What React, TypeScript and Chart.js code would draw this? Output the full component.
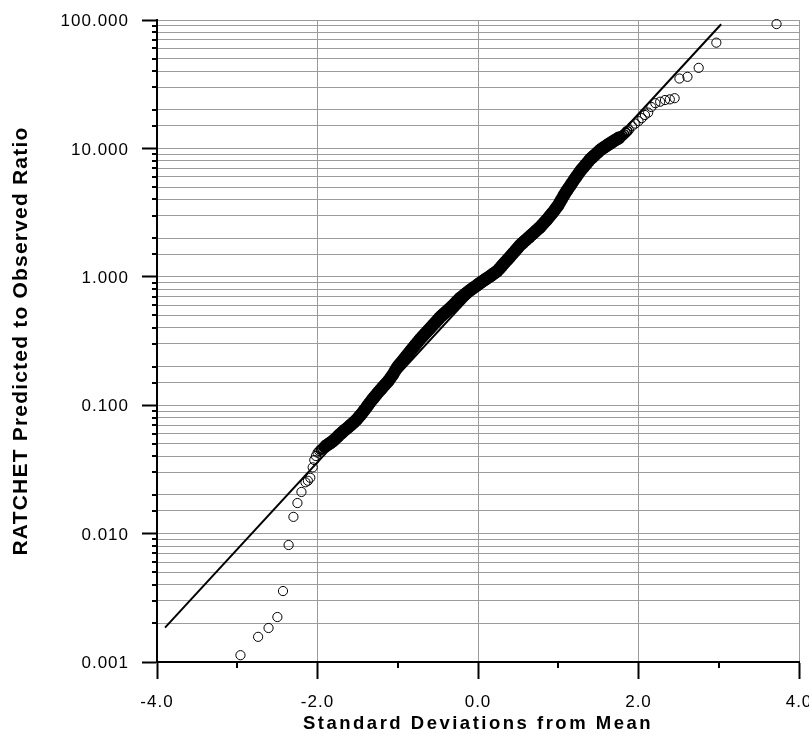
import React, { useEffect, useRef } from 'react';
import { Chart, registerables } from 'chart.js';

Chart.register(...registerables);

// Normal scores (standard deviations from mean) of the observations
const normalScores = [
  -2.96, -2.74, -2.61, -2.50, -2.43, -2.36, -2.30, -2.25, -2.20, -2.15,
  -2.12, -2.09, -2.06, -2.04, -2.02, -2.00, -1.98, -1.96, -1.94, -1.92,
  -1.90, -1.88, -1.86, -1.84, -1.82, -1.80, -1.78, -1.76, -1.74, -1.72,
  -1.70, -1.68, -1.66, -1.64, -1.62, -1.60, -1.58, -1.56, -1.54, -1.52,
  -1.50, -1.48, -1.46, -1.44, -1.42, -1.40, -1.38, -1.36, -1.34, -1.32,
  -1.30, -1.28, -1.26, -1.24, -1.22, -1.20, -1.18, -1.16, -1.14, -1.12,
  -1.10, -1.08, -1.06, -1.04, -1.02, -1.00, -0.98, -0.96, -0.94, -0.92,
  -0.90, -0.88, -0.86, -0.84, -0.82, -0.80, -0.78, -0.76, -0.74, -0.72,
  -0.70, -0.68, -0.66, -0.64, -0.62, -0.60, -0.58, -0.56, -0.54, -0.52,
  -0.50, -0.48, -0.46, -0.44, -0.42, -0.40, -0.38, -0.36, -0.34, -0.32,
  -0.30, -0.28, -0.26, -0.24, -0.22, -0.20, -0.18, -0.16, -0.14, -0.12,
  -0.10, -0.08, -0.06, -0.04, -0.02, 0.00, 0.02, 0.04, 0.06, 0.08,
  0.10, 0.12, 0.14, 0.16, 0.18, 0.20, 0.22, 0.24, 0.26, 0.28,
  0.30, 0.32, 0.34, 0.36, 0.38, 0.40, 0.42, 0.44, 0.46, 0.48,
  0.50, 0.52, 0.54, 0.56, 0.58, 0.60, 0.62, 0.64, 0.66, 0.68,
  0.70, 0.72, 0.74, 0.76, 0.78, 0.80, 0.82, 0.84, 0.86, 0.88,
  0.90, 0.92, 0.94, 0.96, 0.98, 1.00, 1.02, 1.04, 1.06, 1.08,
  1.10, 1.12, 1.14, 1.16, 1.18, 1.20, 1.22, 1.24, 1.26, 1.28,
  1.30, 1.32, 1.34, 1.36, 1.38, 1.40, 1.42, 1.44, 1.46, 1.48,
  1.50, 1.52, 1.54, 1.56, 1.58, 1.60, 1.62, 1.64, 1.66, 1.68,
  1.70, 1.72, 1.74, 1.76, 1.78, 1.80, 1.82, 1.84, 1.86, 1.88,
  1.92, 1.96, 2.00, 2.04, 2.08, 2.12, 2.16, 2.21, 2.27, 2.33,
  2.39, 2.45, 2.51, 2.61, 2.75, 2.97, 3.72,
];

// RATCHET predicted / observed ratios (sorted)
const ratios = [
  0.00113, 0.00157, 0.00184, 0.00224, 0.00357, 0.00815, 0.0135, 0.0173, 0.0211, 0.0251,
  0.0258, 0.0272, 0.0328, 0.0374, 0.0402, 0.0427, 0.0440, 0.0450, 0.0459, 0.0469,
  0.0479, 0.0489, 0.0499, 0.0509, 0.0520, 0.0531, 0.0545, 0.0560, 0.0577, 0.0593,
  0.0608, 0.0624, 0.0640, 0.0655, 0.0671, 0.0689, 0.0706, 0.0724, 0.0743, 0.0764,
  0.0789, 0.0817, 0.0843, 0.0873, 0.0908, 0.0944, 0.0982, 0.1023, 0.1059, 0.1102,
  0.1140, 0.1180, 0.1222, 0.1265, 0.1306, 0.1352, 0.1396, 0.1442, 0.1489, 0.1538,
  0.1600, 0.1667, 0.1734, 0.1820, 0.1914, 0.2000, 0.2070, 0.2143, 0.2218, 0.2301,
  0.2388, 0.2472, 0.2564, 0.2655, 0.2748, 0.2851, 0.2951, 0.3055, 0.3162, 0.3273,
  0.3381, 0.3491, 0.3597, 0.3715, 0.3828, 0.3954, 0.4083, 0.4217, 0.4355, 0.4487,
  0.4634, 0.4786, 0.4932, 0.5058, 0.5188, 0.5321, 0.5458, 0.5610, 0.5754, 0.5929,
  0.6095, 0.6281, 0.6471, 0.6653, 0.6855, 0.6998, 0.7161, 0.7328, 0.7499, 0.7674,
  0.7852, 0.8017, 0.8185, 0.8356, 0.8531, 0.8710, 0.8892, 0.9078, 0.9268, 0.9441,
  0.9638, 0.9817, 1.000, 1.021, 1.042, 1.064, 1.086, 1.109, 1.143, 1.183,
  1.222, 1.262, 1.303, 1.346, 1.390, 1.435, 1.483, 1.531, 1.581, 1.637,
  1.690, 1.750, 1.799, 1.845, 1.897, 1.945, 1.995, 2.046, 2.104, 2.158,
  2.213, 2.270, 2.333, 2.393, 2.460, 2.541, 2.624, 2.710, 2.799, 2.897,
  2.999, 3.105, 3.214, 3.342, 3.475, 3.614, 3.802, 3.990, 4.198, 4.406,
  4.613, 4.819, 5.023, 5.248, 5.470, 5.715, 5.957, 6.209, 6.471, 6.730,
  6.966, 7.194, 7.447, 7.709, 7.980, 8.260, 8.472, 8.710, 8.933, 9.183,
  9.419, 9.683, 9.886, 10.09, 10.28, 10.50, 10.69, 10.89, 11.09, 11.30,
  11.51, 11.72, 11.91, 12.13, 12.36, 12.59, 12.88, 13.24, 13.65, 13.9,
  14.9, 15.6, 16.3, 17.2, 18.2, 19.0, 21.0, 22.5, 23.1, 23.8,
  24.1, 24.6, 35.0, 36.1, 42.4, 66.6, 93.0,
];

// Fitted lognormal line end points
const fitX = [-3.9, 3.03];
const fitY = [0.00185, 92.6];

// Axis tick labels
const xMajorTicks = [-4, -2, 0, 2, 4];
const xTickLabels = ['-4.0', '-2.0', '0.0', '2.0', '4.0'];
const yMajorTicks = [0.001, 0.01, 0.1, 1, 10, 100];
const yTickLabels = ['0.001', '0.010', '0.100', '1.000', '10.000', '100.000'];

const FONT = "'Liberation Sans', Arial, sans-serif";
const GRID = '#9c9c9c';
const CLEAR = 'rgba(0,0,0,0)';

const xIndex = (v: number) => xMajorTicks.findIndex((m) => Math.abs(m - v) < 1e-9);
const yIndex = (v: number) => yMajorTicks.findIndex((m) => Math.abs(v - m) / m < 1e-6);

// heavily overlapping markers in the crowded middle of the distribution render as a solid band
const crowd = (x: number) => (x >= -1.9 && x <= 1.76 ? 2 : x >= -1.96 && x <= 1.86 ? 1 : 0);

const axisPlugin = {
  id: 'axisDecor',
  beforeDraw(chart: any) {
    const ctx = chart.ctx;
    const spacing: Record<string, [string, string]> = {
      x: ['1px', '2.5px'],
      y: ['1px', '1.2px'],
    };
    for (const id of ['x', 'y']) {
      const s = chart.scales[id];
      if (!s || s.__spaced) continue;
      const origLabels = s.drawLabels;
      const origTitle = s.drawTitle;
      s.drawLabels = function (...args: any[]) {
        ctx.save();
        ctx.letterSpacing = spacing[id][0];
        origLabels.apply(this, args);
        ctx.restore();
      };
      s.drawTitle = function (...args: any[]) {
        ctx.save();
        ctx.letterSpacing = spacing[id][1];
        origTitle.apply(this, args);
        ctx.restore();
      };
      s.__spaced = true;
    }
  },
  afterDraw(chart: any) {
    const { ctx, chartArea: a } = chart;
    const x = chart.scales.x;
    const y = chart.scales.y;
    ctx.save();
    ctx.strokeStyle = '#000';
    ctx.lineWidth = 2;
    for (const t of x.ticks) {
      if (xIndex(t.value) < 0) {
        const px = Math.round(x.getPixelForValue(t.value));
        ctx.beginPath();
        ctx.moveTo(px, a.bottom);
        ctx.lineTo(px, a.bottom + 6);
        ctx.stroke();
      }
    }
    for (const t of y.ticks) {
      if (yIndex(t.value) < 0) {
        const py = Math.round(y.getPixelForValue(t.value));
        ctx.beginPath();
        ctx.moveTo(a.left - 5, py);
        ctx.lineTo(a.left, py);
        ctx.stroke();
      }
    }
    ctx.restore();
  },
};

export default function App() {
  const ref = useRef<HTMLCanvasElement>(null);

  useEffect(() => {
    const canvas = ref.current;
    if (!canvas) return;
    const observed = normalScores.map((x, i) => ({ x, y: ratios[i] }));
    const fit = fitX.map((x, i) => ({ x, y: fitY[i] }));

    const chart = new Chart(canvas, {
      type: 'scatter',
      data: {
        datasets: [
          {
            label: 'Fit',
            data: fit,
            showLine: true,
            borderColor: '#000',
            borderWidth: 2,
            pointRadius: 0,
            order: 2,
          } as any,
          {
            label: 'Observed',
            data: observed,
            pointRadius: (c: any) => {
              const k = crowd(normalScores[c.dataIndex]);
              return k === 2 ? 4.8 : 4.6;
            },
            pointBorderWidth: (c: any) => {
              const k = crowd(normalScores[c.dataIndex]);
              return k === 2 ? 3.2 : k === 1 ? 1.6 : 1;
            },
            pointBorderColor: '#000',
            pointBackgroundColor: CLEAR,
            order: 1,
            clip: false,
          } as any,
        ],
      },
      options: {
        responsive: false,
        animation: false,
        events: [],
        layout: { padding: { left: 0, right: 10, top: 20, bottom: 0 } },
        plugins: { legend: { display: false }, tooltip: { enabled: false } },
        scales: {
          x: {
            type: 'linear',
            position: 'bottom',
            min: -4,
            max: 4,
            afterFit: (s: any) => {
              s.height = 72;
              s.paddingLeft = 0;
              s.paddingRight = 0;
            },
            grid: {
              color: (c: any) => {
                const v = c.tick ? c.tick.value : NaN;
                return xIndex(v) > 0 ? GRID : CLEAR;
              },
              lineWidth: 1,
              drawTicks: true,
              tickLength: 17,
              tickWidth: 2,
              tickColor: (c: any) => (c.tick && xIndex(c.tick.value) >= 0 ? '#000' : CLEAR),
            },
            border: { color: '#000', width: 2 },
            ticks: {
              stepSize: 1,
              autoSkip: false,
              maxRotation: 0,
              padding: 13,
              color: '#000',
              font: { family: FONT, size: 17 },
              callback: (v: any) => {
                const i = xIndex(Number(v));
                return i >= 0 ? xTickLabels[i] : '';
              },
            },
            title: {
              display: true,
              text: 'Standard Deviations from Mean',
              color: '#000',
              font: { family: FONT, size: 18.5, weight: 'bold', lineHeight: 1 },
              padding: { top: 0, bottom: 1 },
            },
          },
          y: {
            type: 'logarithmic',
            min: 0.001,
            max: 100,
            afterFit: (s: any) => {
              s.width = 157;
              s.paddingTop = 0;
              s.paddingBottom = 0;
            },
            grid: {
              color: GRID,
              lineWidth: 1,
              drawTicks: true,
              tickLength: 15,
              tickWidth: 2,
              tickColor: (c: any) => (c.tick && yIndex(c.tick.value) >= 0 ? '#000' : CLEAR),
            },
            border: { color: '#000', width: 2 },
            ticks: {
              autoSkip: false,
              padding: 13,
              labelOffset: 1.5,
              color: '#000',
              font: { family: FONT, size: 17 },
              callback: (v: any) => {
                const i = yIndex(Number(v));
                return i >= 0 ? yTickLabels[i] : '';
              },
            },
            title: {
              display: true,
              text: 'RATCHET Predicted to Observed Ratio',
              color: '#000',
              font: { family: FONT, size: 21, weight: 'bold', lineHeight: 1 },
              padding: { top: 11, bottom: 0 },
            },
          },
        },
      } as any,
      plugins: [axisPlugin],
    });

    return () => chart.destroy();
  }, []);

  return (
    <div style={{ position: 'absolute', left: 0, top: 0, width: 809, height: 734 }}>
      <canvas ref={ref} width={809} height={734} style={{ display: 'block' }} />
    </div>
  );
}
